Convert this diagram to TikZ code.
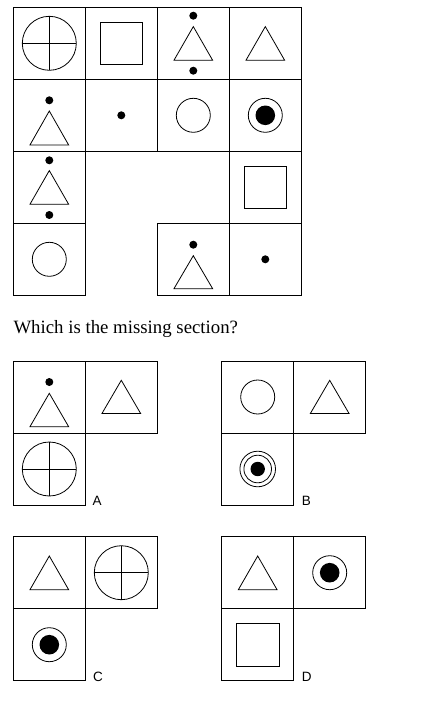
\documentclass[tikz,border=0pt]{standalone}
\usepackage{fontspec}
\setmainfont{Liberation Serif}
\newfontfamily\labelfont{Liberation Sans}
\newcommand\TriAt[3]{\draw[shp] ([shift={(-19.35,#3)}]#1.center) -- ([shift={(19.35,#3)}]#1.center) -- ([shift={(0,#2)}]#1.center) -- cycle;}
\newcommand\DotAt[2]{\fill ([shift={(0,#2)}]#1.center) circle[radius=4];}
\newcommand\CrossCirc[1]{\draw[shp] (#1.center) circle[radius=27];
  \draw[shp] ([shift={(-27,0)}]#1.center) -- ([shift={(27,0)}]#1.center);
  \draw[shp] ([shift={(0,-27)}]#1.center) -- ([shift={(0,27)}]#1.center);}
\newcommand\SqAt[1]{\draw[shp] ([shift={(-21.3,-21.3)}]#1.center) rectangle ([shift={(21.3,21.3)}]#1.center);}
\newcommand\RingAt[1]{\draw[shp] (#1.center) circle[radius=17]; \fill (#1.center) circle[radius=9.8];}
\newcommand\CircAt[1]{\draw[shp] (#1.center) circle[radius=17];}
\begin{document}
\begin{tikzpicture}[x=1pt,y=-1pt,
  cell/.style={draw, minimum size=72pt, inner sep=0pt, line width=0.9pt},
  shp/.style={draw, line width=0.8pt},
  lbl/.style={anchor=base west, inner sep=0pt, font=\labelfont\fontsize{13.5}{15}\selectfont}]
\useasboundingbox (0,0) rectangle (437,717);
% main grid
\node[cell] (g00) at (49.3,43.3) {};
\node[cell] (g01) at (121.3,43.3) {};
\node[cell] (g02) at (193.3,43.3) {};
\node[cell] (g03) at (265.3,43.3) {};
\node[cell] (g10) at (49.3,115.3) {};
\node[cell] (g11) at (121.3,115.3) {};
\node[cell] (g12) at (193.3,115.3) {};
\node[cell] (g13) at (265.3,115.3) {};
\node[cell] (g20) at (49.3,187.3) {};
\node[cell] (g23) at (265.3,187.3) {};
\node[cell] (g30) at (49.3,259.3) {};
\node[cell] (g32) at (193.3,259.3) {};
\node[cell] (g33) at (265.3,259.3) {};
\CrossCirc{g00}
\SqAt{g01}
\TriAt{g02}{-16.7}{17} \DotAt{g02}{-27.6} \DotAt{g02}{27.4}
\TriAt{g03}{-16.7}{17}
\TriAt{g10}{-4.3}{29.7} \DotAt{g10}{-15}
\DotAt{g11}{0}
\CircAt{g12}
\RingAt{g13}
\TriAt{g20}{-16.7}{17} \DotAt{g20}{-27} \DotAt{g20}{27.7}
\SqAt{g23}
\CircAt{g30}
\TriAt{g32}{-3.6}{29.4} \DotAt{g32}{-14.6}
\DotAt{g33}{0}
% question
\node[anchor=base west, inner sep=0pt, font=\fontsize{18.8}{21}\selectfont] (q) at (13.3,333.3) {Which is the missing section?};
% option A
\node[cell] (a1) at (49.3,397) {};
\node[cell] (a2) at (121.3,397) {};
\node[cell] (a3) at (49.3,469) {};
\TriAt{a1}{-3.7}{29.7} \DotAt{a1}{-15}
\TriAt{a2}{-16.7}{16.5}
\CrossCirc{a3}
\node[lbl] (la) at (92.3,505) {A};
% option B
\node[cell] (b1) at (257.7,397) {};
\node[cell] (b2) at (329.7,397) {};
\node[cell] (b3) at (257.7,469) {};
\CircAt{b1}
\TriAt{b2}{-16.7}{16.5}
\draw[shp] (b3.center) circle[radius=17.8];
\draw[shp] (b3.center) circle[radius=13.8];
\fill (b3.center) circle[radius=7.2];
\node[lbl] (lb) at (301.7,505) {B};
% option C
\node[cell] (c1) at (49.3,572.7) {};
\node[cell] (c2) at (121.3,572.7) {};
\node[cell] (c3) at (49.3,644.7) {};
\TriAt{c1}{-16.7}{17}
\CrossCirc{c2}
\RingAt{c3}
\node[lbl] (lc) at (93,681) {C};
% option D
\node[cell] (d1) at (257.7,572.7) {};
\node[cell] (d2) at (329.7,572.7) {};
\node[cell] (d3) at (257.7,644.7) {};
\TriAt{d1}{-16.7}{17}
\RingAt{d2}
\SqAt{d3}
\node[lbl] (ld) at (301.7,681) {D};
\end{tikzpicture}
\end{document}
